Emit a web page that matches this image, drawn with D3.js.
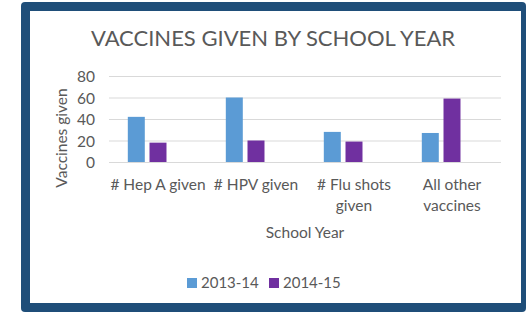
<!DOCTYPE html>
<html>
<head>
<meta charset="utf-8">
<script src="https://cdn.jsdelivr.net/npm/d3@7"></script>
<style>
  body { margin: 0; background: #fff; }
  text { font-family: Lato, 'Open Sans', sans-serif; fill: #595959; }
</style>
</head>
<body>
<div class="vis"></div>
<script>
const categories = [['# Hep A given'], ['# HPV given'], ['# Flu shots', 'given'], ['All other', 'vaccines']]
const seriesKeys = ['2013-14', '2014-15']
const values2013 = [42, 60, 28, 27]
const values2014 = [18, 20, 19, 59]
const yTicks = [0, 20, 40, 60, 80]

const color = d3.scaleOrdinal(seriesKeys, ['#5b9bd5', '#7030a0'])

const width = 527
const height = 315
const fontSize = '15.5px'

const svg = d3
  .select('.vis')
  .append('svg')
  .attr('width', width)
  .attr('height', height)

// dark frame round the chart
svg
  .append('rect')
  .attr('x', 21)
  .attr('y', 2)
  .attr('width', 505)
  .attr('height', 310)
  .attr('rx', 4)
  .attr('fill', '#1f4e79')

svg
  .append('rect')
  .attr('x', 30)
  .attr('y', 11)
  .attr('width', 491)
  .attr('height', 292)
  .attr('fill', '#fff')

const plot = { left: 109, right: 501, top: 76, bottom: 162 }
const catNames = categories.map(c => c.join(' '))

const x0 = d3
  .scaleBand()
  .domain(catNames)
  .range([plot.left, plot.right])

// three slots per group, the last one is left empty (as in the source sheet)
const x1 = d3
  .scaleBand()
  .domain([0, 1, 2])
  .range([0, x0.bandwidth()])
  .paddingInner(0.217)
  .paddingOuter(0.867)

const y = d3
  .scaleLinear()
  .domain([0, 80])
  .range([plot.bottom, plot.top])

// title
svg
  .append('text')
  .attr('x', 273)
  .attr('y', 46)
  .attr('text-anchor', 'middle')
  .style('font-size', '22px')
  .text('VACCINES GIVEN BY SCHOOL YEAR')

// y axis with gridlines
const yAxis = d3
  .axisLeft(y)
  .tickValues(yTicks)
  .tickSize(-(plot.right - plot.left))
  .tickPadding(14)

svg
  .append('g')
  .attr('class', 'y axis')
  .attr('transform', `translate(${plot.left},0)`)
  .call(yAxis)
  .call(g => g.select('.domain').remove())
  .call(g => g.selectAll('.tick line').attr('stroke', '#d9d9d9'))
  .call(g =>
    g
      .selectAll('.tick text')
      .attr('fill', '#595959')
      .attr('dy', '0.36em')
      .style('font-size', fontSize)
      .style('font-family', 'Lato, sans-serif')
  )

// bars
const data = catNames.map((name, i) => ({ name, v: [values2013[i], values2014[i]] }))

const group = svg
  .selectAll('.group')
  .data(data)
  .enter()
  .append('g')
  .attr('class', 'group')
  .attr('transform', d => `translate(${x0(d.name)},0)`)

group
  .selectAll('rect')
  .data(d => d.v.map((value, k) => ({ key: seriesKeys[k], k, value })))
  .enter()
  .append('rect')
  .attr('x', d => x1(d.k))
  .attr('y', d => y(d.value))
  .attr('width', x1.bandwidth())
  .attr('height', d => y(0) - y(d.value))
  .attr('fill', d => color(d.key))

// category labels
const catLabel = svg
  .selectAll('.cat')
  .data(categories)
  .enter()
  .append('text')
  .attr('class', 'cat')
  .attr('text-anchor', 'middle')
  .style('font-size', fontSize)
  .attr('transform', (d, i) => `translate(${x0(catNames[i]) + x0.bandwidth() / 2},190)`)

catLabel
  .selectAll('tspan')
  .data(d => d)
  .enter()
  .append('tspan')
  .attr('x', 0)
  .attr('dy', (d, i) => (i === 0 ? 0 : 21))
  .text(d => d)

// axis titles
svg
  .append('text')
  .attr('x', 305)
  .attr('y', 238)
  .attr('text-anchor', 'middle')
  .style('font-size', fontSize)
  .text('School Year')

svg
  .append('text')
  .attr('transform', 'translate(67,138) rotate(-90)')
  .attr('text-anchor', 'middle')
  .style('font-size', fontSize)
  .text('Vaccines given')

// legend
const legend = svg
  .selectAll('.legend')
  .data(seriesKeys)
  .enter()
  .append('g')
  .attr('class', 'legend')
  .attr('transform', (d, i) => `translate(${187 + i * 82},278)`)

legend
  .append('rect')
  .attr('width', 10)
  .attr('height', 10)
  .attr('fill', d => color(d))

legend
  .append('text')
  .attr('x', 14)
  .attr('y', 10)
  .style('font-size', '15px')
  .text(d => d)
</script>
</body>
</html>
